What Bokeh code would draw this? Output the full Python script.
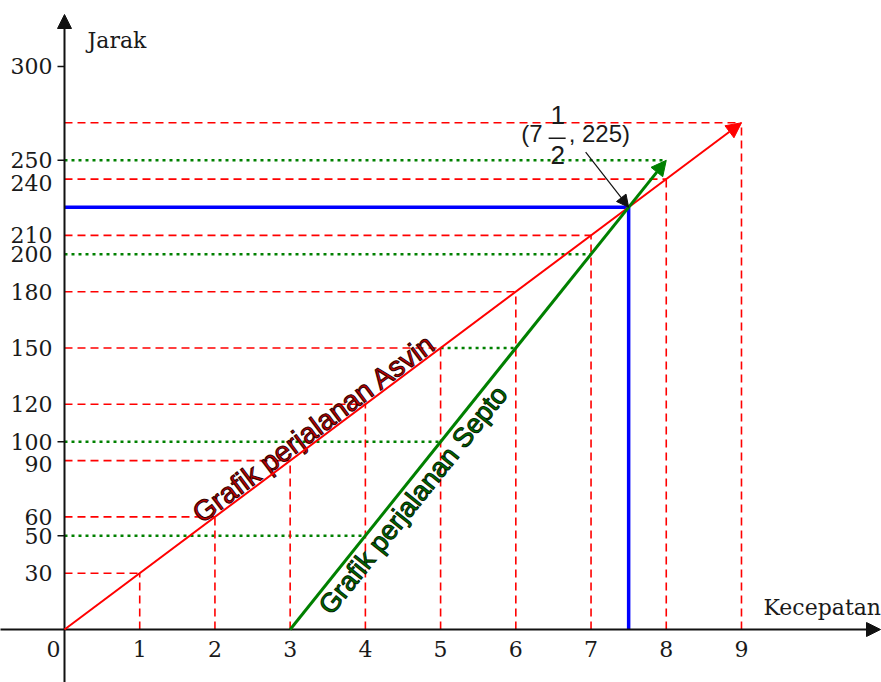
import math
import numpy as np
from bokeh.plotting import figure
from bokeh.models import Arrow, NormalHead, Range1d, ColumnDataSource
from bokeh.core.properties import value
from bokeh.embed import file_html
from bokeh.resources import INLINE

# ---------------- data ----------------
x_ticks = [0, 1, 2, 3, 4, 5, 6, 7, 8, 9]
y_ticks = [30, 50, 60, 90, 100, 120, 150, 180, 200, 210, 240, 250, 300]
y_tick_marks = [50, 100, 250, 300]
asvin_x = [0, 1, 2, 3, 4, 5, 6, 7, 8, 9]
asvin_y = [0, 30, 60, 90, 120, 150, 180, 210, 240, 270]
septo_x = [3, 4, 5, 6, 7, 8]
septo_y = [0, 50, 100, 150, 200, 250]
meet_x = 7.5
meet_y = 225
x_title = "Kecepatan"
y_title = "Jarak"
asvin_label = "Grafik perjalanan Asvin"
septo_label = "Grafik perjalanan Septo"
meet_whole = "(7"
meet_num = "1"
meet_den = "2"
meet_rest = ", 225)"

# ---------------- layout ----------------
W, H = 881, 682
OX, OY = 64, 629          # origin in canvas pixels
SX = 75.22                # px per unit speed
SY = 1.8767               # px per unit distance
xr = Range1d(-OX / SX, (W - OX) / SX)
yr = Range1d(-(H - OY) / SY, OY / SY)

p = figure(width=W, height=H, x_range=xr, y_range=yr,
           x_axis_type=None, y_axis_type=None,
           output_backend="svg", toolbar_location=None,
           min_border=0, outline_line_color=None,
           background_fill_color="white", border_fill_color="white")

RED = "#ff0000"
GREEN = "#008000"
BLUE = "#0000ff"
SERIF = value("DejaVu Serif")
SANS = value("Liberation Sans")

# green dotted guides (Septo)
gx0, gx1, gy = [], [], []
for sx_, sy_ in zip(septo_x, septo_y):
    if sy_ == 0:
        continue
    start = asvin_x[asvin_y.index(sy_)] if sy_ in asvin_y else 0
    gx0.append(start); gx1.append(sx_); gy.append(sy_)
p.segment(x0=gx0, y0=gy, x1=gx1, y1=gy, line_color=GREEN,
          line_width=2.5, line_dash="3 4")

# red dashed guides (Asvin)
ax_ = [a for a, b in zip(asvin_x, asvin_y) if b > 0]
ay_ = [b for b in asvin_y if b > 0]
p.segment(x0=[0] * len(ax_), y0=ay_, x1=ax_, y1=ay_, line_color=RED,
          line_width=1.6, line_dash="8 5")
p.segment(x0=ax_, y0=[0] * len(ax_), x1=ax_, y1=ay_, line_color=RED,
          line_width=1.6, line_dash="8 5")

# blue meeting lines
p.segment(x0=[0, meet_x], y0=[meet_y, 0], x1=[meet_x, meet_x], y1=[meet_y, meet_y],
          line_color=BLUE, line_width=3.5)

# axes
p.add_layout(Arrow(x_start=0, y_start=yr.start - 5, x_end=0, y_end=(OY - 14) / SY,
                   line_color="#111111", line_width=2,
                   end=NormalHead(size=14, fill_color="#111111", line_color="#111111")))
p.add_layout(Arrow(x_start=xr.start - 0.2, y_start=0, x_end=(W - 1 - OX) / SX, y_end=0,
                   line_color="#111111", line_width=2,
                   end=NormalHead(size=14, fill_color="#111111", line_color="#111111")))

# y tick marks
p.segment(x0=[-7 / SX] * len(y_tick_marks), y0=y_tick_marks, x1=[0] * len(y_tick_marks),
          y1=y_tick_marks, line_color="#111111", line_width=1.5)

# travel lines
p.add_layout(Arrow(x_start=asvin_x[0], y_start=asvin_y[0], x_end=asvin_x[-1], y_end=asvin_y[-1],
                   line_color=RED, line_width=2,
                   end=NormalHead(size=15, fill_color=RED, line_color=RED)))
p.add_layout(Arrow(x_start=septo_x[0], y_start=septo_y[0], x_end=septo_x[-1], y_end=septo_y[-1],
                   line_color=GREEN, line_width=3,
                   end=NormalHead(size=15, fill_color=GREEN, line_color=GREEN)))

# tick labels
nudge = {90: 3, 240: 4}
ysrc = ColumnDataSource(dict(x=[0] * len(y_ticks), y=y_ticks, t=[str(v) for v in y_ticks],
                             yo=[nudge.get(v, 0) for v in y_ticks]))
p.text(x="x", y="y", text="t", y_offset="yo", source=ysrc, x_offset=-12,
       text_align="right", text_baseline="middle", text_font=SERIF,
       text_font_size="22px", text_color="#1a1a1a")
xsrc = ColumnDataSource(dict(x=x_ticks, y=[0] * len(x_ticks), t=[str(v) for v in x_ticks],
                             xo=[-11 if v == 0 else 0 for v in x_ticks]))
p.text(x="x", y="y", text="t", x_offset="xo", source=xsrc, y_offset=19,
       text_align="center", text_baseline="middle", text_font=SERIF,
       text_font_size="22px", text_color="#1a1a1a")

# axis titles
p.text(x=[0], y=[yr.end], text=[y_title], x_offset=23, y_offset=40,
       text_align="left", text_baseline="middle", text_font=SERIF,
       text_font_size="22px", text_color="#1a1a1a")
p.text(x=[x_ticks[-1]], y=[0], text=[x_title], x_offset=22, y_offset=-22,
       text_align="left", text_baseline="middle", text_font=SERIF,
       text_font_size="22px", text_color="#1a1a1a")

# rotated line labels
slope_a = (asvin_y[-1] - asvin_y[0]) / (asvin_x[-1] - asvin_x[0])
slope_s = (septo_y[-1] - septo_y[0]) / (septo_x[-1] - septo_x[0])
ang_a = math.atan2(slope_a * SY, SX)
ang_s = math.atan2(slope_s * SY, SX)
xa = 1.84
ya = float(np.interp(xa, asvin_x, asvin_y))
p.text(x=[xa], y=[ya], text=[asvin_label], angle=ang_a,
       x_offset=-12 * math.sin(ang_a), y_offset=-12 * math.cos(ang_a),
       text_align="left", text_baseline="middle", text_font=SANS,
       text_font_size="28.5px", text_color="#c00000", text_outline_color="#300000")
xs = 3.3
ys = float(np.interp(xs, septo_x, septo_y))
p.text(x=[xs], y=[ys], text=[septo_label], angle=ang_s,
       text_align="left", text_baseline="top", text_font=SANS,
       text_font_size="27px", text_color="#007000", text_outline_color="#002000")

# meeting point annotation
p.add_layout(Arrow(x_start=meet_x - 43 / SX, y_start=meet_y + 55 / SY, x_end=meet_x, y_end=meet_y,
                   line_color="#111111", line_width=1.2,
                   end=NormalHead(size=12, fill_color="#111111", line_color="#111111")))
ann_font = dict(text_font=SANS, text_color="#1a1a1a", text_baseline="middle")
p.text(x=[meet_x], y=[meet_y], text=[meet_whole], x_offset=-86, y_offset=-74,
       text_align="right", text_font_size="24px", **ann_font)
p.text(x=[meet_x], y=[meet_y], text=[meet_num], x_offset=-71, y_offset=-92,
       text_align="center", text_font_size="26px", **ann_font)
p.text(x=[meet_x], y=[meet_y], text=[meet_den], x_offset=-71, y_offset=-52,
       text_align="center", text_font_size="26px", **ann_font)
p.text(x=[meet_x], y=[meet_y], text=[meet_rest], x_offset=-60, y_offset=-74,
       text_align="left", text_font_size="24px", **ann_font)
p.segment(x0=[meet_x - 80 / SX], y0=[meet_y + 69 / SY], x1=[meet_x - 63 / SX],
          y1=[meet_y + 69 / SY], line_color="#1a1a1a", line_width=1.5)

open("out.html", "w").write(file_html(p, INLINE))
